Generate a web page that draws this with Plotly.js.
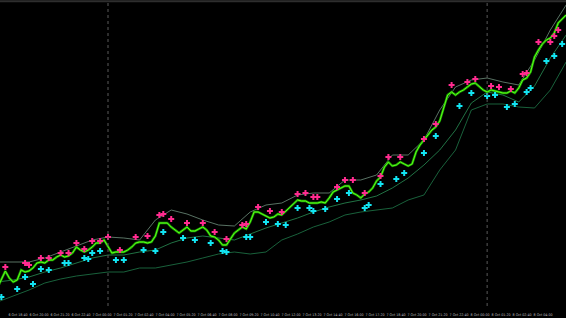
<!DOCTYPE html>
<html>
<head>
<meta charset="utf-8">
<script src="https://cdn.plot.ly/plotly-3.0.1.min.js"></script>
<style>
html,body{margin:0;padding:0;background:#000;}
#chart{width:566px;height:318px;}
</style>
</head>
<body>
<div id="chart"></div>
<script>
// Close prices (relative units) per 15-minute bar, bar 0 = 6 Oct 17:00
const closePrice = [18,26,35,28,24,26,36,34,35,38,43,44,43,46,46,49,51,49,50,53,
  59,56,54,56,59,63,63,66,60,53,54,54,54,56,59,63,64,64,63,64,
  70,83,83,83,79,76,73,76,79,75,75,77,79,76,70,69,66,61,61,67,
  73,76,79,77,84,94,94,92,90,88,89,92,91,95,98,102,106,105,105,103,
  103,103,104,103,108,114,116,118,120,120,113,111,108,112,114,118,125,129,139,144,
  140,141,144,142,140,142,154,161,166,170,176,179,185,198,211,214,211,214,216,219,
  222,223,219,216,214,216,215,214,213,213,215,213,218,226,228,234,249,256,262,266,
  268,273,283,287,291];

// Band lines sampled every 4 bars (bars 0,4,8,...,144)
const bandBars = [0,4,8,12,16,20,24,28,32,36,40,44,48,52,56,60,64,68,72,76,80,84,88,92,96,100,104,108,112,116,120,124,128,132,136,140,144];
const upperBand = [44,44,44,48,54,60,66,69,68,66,86,96,92,86,81,80,94,101,103,111,113,113,126,126,131,151,151,166,196,219,226,228,224,221,246,276,301];
const middleLine = [24,26,29,34,38,43,48,51,51,54,56,63,68,70,68,66,72,78,83,88,94,99,103,106,110,118,128,141,156,176,203,214,211,204,220,248,271];
const lowerBand = [4,10,16,23,27,30,32,34,34,38,38,41,44,48,52,54,52,54,66,72,79,84,91,94,96,98,106,111,136,156,196,202,202,199,198,216,244];

// Sell signals (pink) : bar index, price
const sellBars = [2,7,8,11,13,16,18,20,22,24,26,28,31,35,38,41,42,44,48,52,55,58,62,63,66,69,72,76,78,80,81,86,88,90,93,97,99,102,108,111,115,119,121,125,127,130,133,134,137,140,141,142];
const sellPrice = [39,43,41,48,48,53,53,63,57,65,65,69,56,69,70,91,92,87,83,83,74,67,81,82,99,95,94,112,113,109,109,119,126,126,113,130,149,149,167,182,221,224,227,220,219,217,232,233,264,264,270,276];

// Buy signals (cyan) : bar index, price
const buyBars = [1,5,7,9,11,13,17,18,22,23,24,26,30,32,37,40,42,47,50,54,57,58,63,64,68,71,73,76,79,80,83,86,89,93,94,97,101,103,108,111,117,120,124,126,129,131,134,135,139,141,143];
const buyPrice = [9,17,29,22,37,36,43,43,48,47,53,55,46,46,56,55,74,68,66,63,55,54,69,69,84,82,81,98,98,95,97,107,113,98,101,122,127,133,153,170,200,213,210,211,199,202,214,218,245,250,262];

// Time axis labels (every 80 minutes)
const timeLabels = ["6 Oct 17:20","6 Oct 18:40","6 Oct 20:00","6 Oct 21:20","6 Oct 22:40","7 Oct 00:00",
  "7 Oct 01:20","7 Oct 02:40","7 Oct 04:00","7 Oct 05:20","7 Oct 06:40","7 Oct 08:00","7 Oct 09:20",
  "7 Oct 10:40","7 Oct 12:00","7 Oct 13:20","7 Oct 14:40","7 Oct 16:00","7 Oct 17:20","7 Oct 18:40",
  "7 Oct 20:00","7 Oct 21:20","7 Oct 22:40","8 Oct 00:00","8 Oct 01:20","8 Oct 02:40","8 Oct 04:00","8 Oct 05:20"];

// Day separators (bar index of 7 Oct 00:00 and 8 Oct 00:00)
const daySeparators = [28, 124];

const bars = closePrice.map((_, i) => i);
const firstTick = 5.21 - 5.318;
const tickStep = 5.318;
const tickVals = timeLabels.map((_, i) => firstTick + i * tickStep);

const traces = [
  {x: bandBars, y: lowerBand, mode: 'lines', line: {color: '#1f7a4a', width: 0.8}, hoverinfo: 'skip'},
  {x: bandBars, y: middleLine, mode: 'lines', line: {color: '#2a8f55', width: 0.8}, hoverinfo: 'skip'},
  {x: bandBars, y: upperBand, mode: 'lines', line: {color: '#6e8f7c', width: 0.8}, hoverinfo: 'skip'},
  {x: bars, y: closePrice, mode: 'lines', line: {color: '#1a9e00', width: 2.4}, hoverinfo: 'skip'},
  {x: bars, y: closePrice, mode: 'lines', line: {color: '#5cff1a', width: 1}, hoverinfo: 'skip'},
  {x: sellBars, y: sellPrice, mode: 'markers', marker: {symbol: 'cross', size: 5, color: '#ff2b8f'}, hoverinfo: 'skip'},
  {x: buyBars, y: buyPrice, mode: 'markers', marker: {symbol: 'cross', size: 5, color: '#12e4f2'}, hoverinfo: 'skip'}
];

const shapes = daySeparators.map(b => ({
  type: 'line', xref: 'x', yref: 'paper', x0: b, x1: b, y0: 0, y1: 1,
  line: {color: '#5a5a5a', width: 1, dash: 'dot'}
}));
shapes.push({type: 'line', xref: 'paper', yref: 'paper', x0: 0, x1: 1, y0: 1.006, y1: 1.006,
  line: {color: '#2e2e2e', width: 2}});

const layout = {
  width: 566, height: 318,
  margin: {l: 0, r: 0, t: 3, b: 12, pad: 0},
  paper_bgcolor: '#000', plot_bgcolor: '#000',
  showlegend: false,
  xaxis: {range: [0.65, 143.97], showgrid: false, zeroline: false, showline: false,
    tickmode: 'array', tickvals: tickVals, ticktext: timeLabels, ticks: '',
    ticklabelstandoff: 5,
    tickfont: {family: 'Liberation Sans Narrow, DejaVu Sans Condensed, sans-serif', size: 3.6, color: '#bdbdbd'}, tickangle: 0},
  yaxis: {range: [0, 303], showgrid: false, zeroline: false, showline: false, showticklabels: false, ticks: ''},
  shapes: shapes
};

Plotly.newPlot('chart', traces, layout, {staticPlot: true, displayModeBar: false});
</script>
</body>
</html>
